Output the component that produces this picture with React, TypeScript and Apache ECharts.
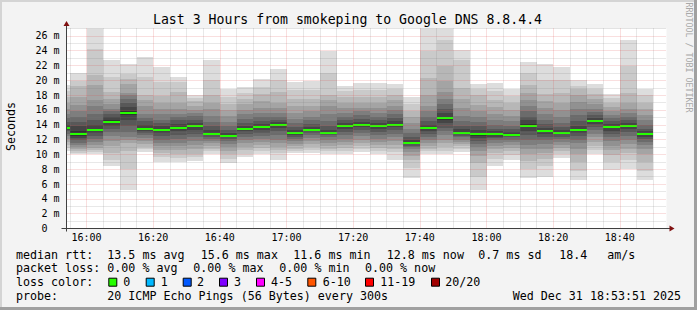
import React, { useEffect, useRef } from 'react';
import * as echarts from 'echarts';

// ---------- data ----------
const AXIS_START = '15:54';
const AXIS_END = '18:54';
const STEP_MIN = 5;
const Y_MAX = 27;
const xTickLabels = ['16:00', '16:20', '16:40', '17:00', '17:20', '17:40', '18:00', '18:20', '18:40'];
const yTickValues = [0, 2, 4, 6, 8, 10, 12, 14, 16, 18, 20, 22, 24, 26];

const barStarts = [
  '15:50', '15:55', '16:00', '16:05', '16:10', '16:15', '16:20', '16:25', '16:30', '16:35', '16:40', '16:45',
  '16:50', '16:55', '17:00', '17:05', '17:10', '17:15', '17:20', '17:25', '17:30', '17:35', '17:40', '17:45',
  '17:50', '17:55', '18:00', '18:05', '18:10', '18:15', '18:20', '18:25', '18:30', '18:35', '18:40', '18:45',
];

// median rtt (ms) per 5-minute step
const medianRtt = [
  13.6, 12.8, 13.3, 14.4, 15.6, 13.5, 13.3, 13.6, 13.8, 12.8, 12.5, 13.5,
  13.7, 14.0, 12.9, 13.3, 12.9, 13.8, 14.0, 13.8, 14.0, 11.6, 13.6, 14.9,
  12.9, 12.7, 12.7, 12.65, 13.9, 13.1, 12.9, 13.3, 14.5, 13.7, 13.9, 12.7,
];

// 20 sorted ping times (ms) per step
const pingSets = [
  [10.5, 10.9, 11.3, 11.7, 12.1, 12.5, 12.8, 13.1, 13.3, 13.5, 13.7, 14.0, 14.4, 14.9, 15.5, 16.2, 17.0, 17.8, 18.6, 19.4],
  [10.0, 10.2, 10.5, 10.8, 11.0, 11.3, 11.6, 11.9, 12.2, 12.5, 13.1, 13.9, 14.4, 15.0, 15.8, 16.7, 17.8, 19.2, 19.9, 21.0],
  [10.0, 10.3, 10.6, 10.9, 11.3, 11.7, 12.1, 12.5, 12.9, 13.2, 13.5, 14.0, 14.6, 15.4, 16.5, 17.4, 19.4, 20.7, 24.3, 27.6],
  [8.4, 9.3, 10.2, 11.1, 11.8, 12.5, 13.0, 13.5, 13.9, 14.2, 14.6, 15.0, 15.4, 15.8, 16.2, 16.8, 17.5, 18.4, 20.5, 22.8],
  [5.2, 8.0, 10.5, 11.5, 12.0, 12.4, 13.0, 13.8, 14.6, 15.3, 15.9, 16.4, 16.9, 17.5, 18.0, 18.3, 19.5, 20.2, 20.8, 22.2],
  [10.3, 10.7, 11.0, 11.4, 11.8, 12.2, 12.6, 12.9, 13.2, 13.4, 13.6, 14.0, 14.5, 14.9, 15.5, 16.5, 17.3, 18.0, 20.5, 23.2],
  [9.0, 9.6, 10.2, 10.6, 11.1, 11.5, 12.0, 12.5, 12.9, 13.2, 13.4, 13.8, 14.3, 14.7, 15.4, 16.1, 17.0, 17.9, 19.8, 21.8],
  [9.0, 9.5, 10.0, 10.6, 11.1, 11.6, 12.1, 12.6, 13.1, 13.5, 13.7, 14.1, 14.6, 15.0, 15.4, 16.2, 17.0, 18.4, 19.8, 20.4],
  [9.1, 9.6, 10.1, 10.7, 11.3, 11.8, 12.3, 12.8, 13.3, 13.7, 13.9, 14.3, 14.7, 15.2, 15.6, 16.0, 16.6, 17.2, 17.6, 18.0],
  [10.0, 10.4, 10.8, 11.2, 11.5, 11.8, 12.1, 12.4, 12.6, 12.7, 12.9, 13.3, 13.9, 14.4, 15.2, 16.1, 17.0, 18.0, 20.1, 22.8],
  [8.8, 9.4, 10.0, 10.5, 11.0, 11.4, 11.8, 12.1, 12.3, 12.4, 12.6, 12.9, 13.3, 13.8, 14.4, 15.2, 16.0, 16.8, 17.8, 18.8],
  [9.6, 10.1, 10.6, 11.0, 11.5, 11.9, 12.3, 12.7, 13.1, 13.4, 13.6, 13.9, 14.3, 14.8, 15.4, 16.0, 16.8, 17.5, 18.3, 19.1],
  [10.1, 10.5, 10.9, 11.3, 11.7, 12.1, 12.5, 12.9, 13.3, 13.6, 13.8, 14.1, 14.5, 15.0, 15.6, 16.3, 17.2, 18.1, 19.1, 20.2],
  [9.3, 10.2, 10.6, 11.0, 11.5, 12.0, 12.6, 13.1, 13.6, 13.9, 14.1, 14.4, 14.7, 15.0, 15.6, 16.3, 17.0, 18.4, 20.0, 21.6],
  [10.2, 10.5, 10.8, 11.1, 11.4, 11.8, 12.1, 12.4, 12.6, 12.8, 13.0, 13.3, 13.7, 14.2, 14.8, 15.6, 16.5, 17.5, 18.7, 19.8],
  [10.2, 10.6, 11.0, 11.4, 11.8, 12.2, 12.6, 12.9, 13.1, 13.3, 13.4, 13.7, 14.1, 14.6, 15.1, 15.8, 16.5, 17.5, 18.7, 19.9],
  [10.0, 10.4, 10.8, 11.2, 11.6, 12.0, 12.3, 12.6, 12.8, 12.9, 13.0, 13.3, 13.8, 14.5, 15.5, 16.5, 17.4, 18.0, 21.0, 24.0],
  [10.1, 10.5, 10.9, 11.3, 11.7, 12.1, 12.6, 13.0, 13.4, 13.7, 13.9, 14.2, 14.6, 15.0, 15.6, 16.3, 17.0, 17.8, 18.5, 19.2],
  [10.3, 10.7, 11.2, 11.6, 12.0, 12.5, 12.9, 13.3, 13.7, 13.9, 14.1, 14.4, 14.8, 15.3, 15.8, 16.3, 17.0, 17.8, 18.7, 19.7],
  [10.1, 10.5, 10.9, 11.3, 11.7, 12.1, 12.6, 13.0, 13.4, 13.7, 13.9, 14.2, 14.6, 15.1, 15.6, 16.3, 17.0, 17.8, 18.7, 19.6],
  [9.3, 10.3, 10.8, 11.3, 11.8, 12.3, 12.8, 13.3, 13.7, 13.9, 14.1, 14.5, 14.9, 15.4, 16.0, 16.6, 17.3, 18.0, 18.8, 19.5],
  [6.8, 8.2, 9.2, 9.8, 10.3, 10.7, 11.0, 11.2, 11.4, 11.5, 11.7, 12.0, 12.4, 12.9, 13.5, 14.2, 15.0, 15.8, 16.8, 17.7],
  [10.0, 10.4, 10.8, 11.2, 11.6, 12.0, 12.4, 12.8, 13.2, 13.5, 13.7, 14.0, 14.5, 15.1, 15.8, 16.6, 18.0, 20.3, 24.0, 27.6],
  [10.0, 10.5, 11.0, 11.5, 12.0, 12.6, 13.1, 13.6, 14.2, 14.7, 15.1, 15.6, 16.1, 16.8, 17.5, 18.4, 19.9, 22.0, 25.4, 27.6],
  [10.3, 10.7, 11.1, 11.4, 11.7, 12.0, 12.3, 12.5, 12.7, 12.8, 13.0, 13.4, 13.9, 14.5, 15.2, 16.3, 17.5, 19.0, 22.8, 24.1],
  [5.2, 7.0, 8.9, 9.8, 10.5, 11.0, 11.4, 11.8, 12.2, 12.5, 12.9, 13.3, 13.8, 14.4, 15.0, 15.8, 16.7, 18.0, 18.8, 19.5],
  [8.5, 9.4, 10.2, 10.8, 11.2, 11.6, 11.9, 12.2, 12.4, 12.6, 12.8, 13.1, 13.5, 14.0, 14.7, 15.5, 16.4, 17.3, 18.6, 19.7],
  [9.3, 9.9, 10.4, 10.9, 11.3, 11.7, 12.0, 12.3, 12.5, 12.6, 12.7, 13.0, 13.4, 13.9, 14.5, 15.2, 16.0, 16.9, 17.9, 18.9],
  [6.8, 8.0, 9.1, 10.0, 10.7, 11.3, 12.0, 12.6, 13.2, 13.7, 14.1, 14.6, 15.1, 15.8, 16.6, 17.4, 18.3, 19.4, 21.0, 22.5],
  [7.0, 8.5, 9.4, 10.2, 10.8, 11.4, 11.9, 12.4, 12.8, 13.0, 13.2, 13.6, 14.1, 14.7, 15.4, 16.3, 17.2, 18.1, 20.0, 22.2],
  [9.5, 10.0, 10.4, 10.9, 11.3, 11.7, 12.1, 12.4, 12.7, 12.8, 13.0, 13.3, 13.7, 14.3, 15.0, 16.0, 17.0, 18.3, 20.0, 21.8],
  [6.5, 7.8, 9.0, 10.0, 10.8, 11.5, 12.0, 12.5, 12.9, 13.2, 13.4, 13.8, 14.5, 15.3, 16.2, 17.1, 18.0, 18.8, 19.3, 20.0],
  [10.0, 10.6, 11.2, 11.7, 12.3, 12.8, 13.3, 13.7, 14.1, 14.4, 14.6, 14.9, 15.3, 15.7, 16.2, 16.8, 17.5, 18.2, 18.9, 19.5],
  [7.9, 9.0, 9.9, 10.6, 11.2, 11.8, 12.3, 12.8, 13.2, 13.6, 13.8, 14.1, 14.5, 14.9, 15.3, 15.8, 16.4, 17.0, 17.6, 18.1],
  [8.0, 9.2, 10.2, 10.8, 11.4, 12.0, 12.5, 13.0, 13.4, 13.8, 14.0, 14.3, 14.7, 15.1, 15.6, 16.2, 17.0, 18.3, 22.0, 25.4],
  [6.5, 7.8, 9.0, 10.0, 10.8, 11.3, 11.7, 12.1, 12.4, 12.6, 12.8, 13.1, 13.5, 14.0, 14.6, 15.3, 16.1, 17.0, 18.0, 18.9],
];

const titleText = 'Last 3 Hours from smokeping to Google DNS 8.8.4.4';
const yAxisTitle = 'Seconds';
const watermark = 'RRDTOOL / TOBI OETIKER';
const rttHeader = 'median rtt:';
const rttStats = ['13.5 ms avg', '15.6 ms max', '11.6 ms min', '12.8 ms now', '0.7 ms sd', '18.4', 'am/s'];
const lossHeader = 'packet loss:';
const lossStats = ['0.00 % avg', '0.00 % max', '0.00 % min', '0.00 % now'];
const colorHeader = 'loss color:';
const lossLabels = ['0', '1', '2', '3', '4-5', '6-10', '11-19', '20/20'];
const lossColors = ['#26ff00', '#00b8ff', '#0059ff', '#7e00ff', '#ff00ff', '#ff5500', '#ff0000', '#a10000'];
const probeHeader = 'probe:';
const probeText = '20 ICMP Echo Pings (56 Bytes) every 300s';
const stampText = 'Wed Dec 31 18:53:51 2025';

// ---------- layout ----------
const W = 697;
const H = 310;
const GL = 66.5;
const GT = 28.5;
const GW = 600;
const GH = 200;
const MONO = '"DejaVu Sans Mono", monospace';
const BG = '#f3f3f3';
const MAJOR = 'rgba(225,80,80,0.36)';
const MINOR = 'rgba(120,120,120,0.34)';
const LEG_FONT = `11.66px ${MONO}`;
const LEFT_X = 16;
const COL_X = 107.3;
const ROW_Y = [254.5, 268.3, 282.2, 296];
const RTT_X = [107.3, 200.7, 293.3, 386.7, 478.3, 559.3, 607.3];
const LOSS_X = [107.3, 193.3, 279.3, 365];
const BOX_X = [108.3, 145.7, 182.7, 219, 256, 307.3, 365, 431];
const BOXLBL_X = [123.3, 160.7, 197, 234, 271, 322.7, 380.3, 445.3];
const STAMP_X = 512.7;

const toMin = (s: string) => {
  const [h, m] = s.split(':').map(Number);
  return h * 60 + m;
};
const fmt = (m: number) => `${String(Math.floor(m / 60)).padStart(2, '0')}:${String(m % 60).padStart(2, '0')}`;

const xCats: string[] = [];
for (let m = toMin(AXIS_START); m <= toMin(AXIS_END); m++) xCats.push(fmt(m));

export default function App() {
  const ref = useRef<HTMLDivElement>(null);

  useEffect(() => {
    if (!ref.current) return;
    const chart = echarts.init(ref.current, undefined, { renderer: 'svg', width: W, height: H });
    const origin = toMin(AXIS_START);
    const data = barStarts.map((s, i) => [toMin(s) - origin, medianRtt[i]]);

    const text = (t: string, x: number, y: number, extra: any = {}) => ({
      type: 'text',
      x,
      y,
      z: 100,
      silent: true,
      style: { text: t, font: LEG_FONT, fill: '#000', align: 'left', verticalAlign: 'middle', ...extra },
    });

    const graphics: any[] = [];
    // frame
    graphics.push({ type: 'rect', z: 100, shape: { x: 0, y: 0, width: W, height: 2 }, style: { fill: '#d4d4d4' } });
    graphics.push({ type: 'rect', z: 100, shape: { x: 0, y: 0, width: 2, height: H }, style: { fill: '#d4d4d4' } });
    graphics.push({ type: 'rect', z: 101, shape: { x: W - 3, y: 0, width: 3, height: H }, style: { fill: '#a0a0a0' } });
    graphics.push({ type: 'rect', z: 101, shape: { x: 0, y: H - 3, width: W, height: 3 }, style: { fill: '#a0a0a0' } });
    // axes
    graphics.push({ type: 'line', z: 100, shape: { x1: GL, y1: GT + GH + 3, x2: GL, y2: GT - 5 }, style: { stroke: '#404040', lineWidth: 1 } });
    graphics.push({ type: 'line', z: 100, shape: { x1: GL - 5, y1: GT + GH, x2: GL + GW + 4, y2: GT + GH }, style: { stroke: '#404040', lineWidth: 1 } });
    graphics.push({ type: 'polygon', z: 101, shape: { points: [[GL - 3, GT - 2.5], [GL + 3, GT - 2.5], [GL, GT - 7.5]] }, style: { fill: '#801010' } });
    graphics.push({ type: 'polygon', z: 101, shape: { points: [[GL + GW + 3, GT + GH - 3], [GL + GW + 3, GT + GH + 3], [GL + GW + 8, GT + GH]] }, style: { fill: '#801010' } });
    // titles
    graphics.push(text(titleText, 347.5, 19.5, { font: `13.2px ${MONO}`, align: 'center' }));
    graphics.push({ ...text(yAxisTitle, 0, 0, { align: 'center' }), x: 10.5, y: 126.5, rotation: Math.PI / 2 });
    graphics.push({ ...text(watermark, 0, 0, { align: 'center', font: `8.3px ${MONO}`, fill: '#a8a8a8' }), x: 688.5, y: 57.5, rotation: -Math.PI / 2 });
    // legend rows
    graphics.push(text(rttHeader, LEFT_X, ROW_Y[0]));
    rttStats.forEach((s, i) => graphics.push(text(s, RTT_X[i], ROW_Y[0])));
    graphics.push(text(lossHeader, LEFT_X, ROW_Y[1]));
    lossStats.forEach((s, i) => graphics.push(text(s, LOSS_X[i], ROW_Y[1])));
    graphics.push(text(colorHeader, LEFT_X, ROW_Y[2]));
    lossLabels.forEach((s, i) => {
      graphics.push({
        type: 'rect',
        z: 100,
        shape: { x: BOX_X[i] + 0.5, y: ROW_Y[2] - 4, width: 8, height: 8 },
        style: { fill: lossColors[i], stroke: '#000', lineWidth: 1 },
      });
      graphics.push(text(s, BOXLBL_X[i], ROW_Y[2]));
    });
    graphics.push(text(probeHeader, LEFT_X, ROW_Y[3]));
    graphics.push(text(probeText, COL_X, ROW_Y[3]));
    graphics.push(text(stampText, STAMP_X, ROW_Y[3]));

    const option: any = {
      animation: false,
      backgroundColor: BG,
      grid: { left: GL, top: GT, width: GW, height: GH, show: true, backgroundColor: '#ffffff', borderWidth: 0 },
      xAxis: [
        {
          type: 'category',
          data: xCats,
          boundaryGap: false,
          z: 6,
          axisLine: { show: false },
          axisTick: { show: false },
          axisLabel: {
            interval: (_i: number, v: string) => xTickLabels.includes(v),
            fontFamily: MONO,
            fontSize: 10,
            color: '#000',
            margin: 4,
          },
          splitLine: {
            show: true,
            interval: (_i: number, v: string) => xTickLabels.includes(v),
            lineStyle: { color: MAJOR, type: [1, 1], width: 1 },
          },
        },
        {
          type: 'category',
          data: xCats,
          boundaryGap: false,
          position: 'bottom',
          z: 5,
          axisLine: { show: false },
          axisTick: { show: false },
          axisLabel: { show: false },
          splitLine: {
            show: true,
            interval: (_i: number, v: string) => toMin(v) % STEP_MIN === 0 && !xTickLabels.includes(v),
            lineStyle: { color: MINOR, type: [1, 1], width: 1 },
          },
        },
      ],
      yAxis: {
        type: 'value',
        min: 0,
        max: Y_MAX,
        interval: 1,
        z: 6,
        axisLine: { show: false },
        axisTick: { show: false },
        axisLabel: {
          formatter: (v: number) => (yTickValues.includes(v) ? (v === 0 ? '{z|0}' : `${v} m`) : ''),
          fontFamily: MONO,
          fontSize: 10,
          color: '#000',
          margin: 7,
          rich: { z: { fontFamily: MONO, fontSize: 10, color: '#000', padding: [0, 12, 0, 0] } },
        },
        splitLine: { show: true, lineStyle: { color: [MAJOR, MINOR], type: [1, 1], width: 1 } },
      },
      series: [
        {
          type: 'custom',
          xAxisIndex: 0,
          yAxisIndex: 0,
          clip: true,
          z: 2,
          encode: { x: 0, y: 1 },
          data,
          renderItem: (params: any, api: any) => {
            const i = params.dataIndex;
            const start = api.value(0);
            const pings = pingSets[i];
            const xa = Math.round(api.coord([start, 0])[0]);
            const xb = Math.round(api.coord([start + STEP_MIN, 0])[0]);
            const children: any[] = [];
            const half = pings.length / 2;
            for (let b = 0; b < half; b++) {
              const lo = pings[b];
              const hi = pings[pings.length - 1 - b];
              const yLo = Math.round(api.coord([start, lo])[1]);
              const yHi = Math.round(api.coord([start, hi])[1]);
              const g = Math.floor((190 / half) * (half - (b + 1))) + 50;
              children.push({
                type: 'rect',
                shape: { x: xa, y: yHi, width: xb - xa, height: Math.max(yLo - yHi, 1) },
                style: { fill: `rgb(${g},${g},${g})` },
              });
            }
            const ym = Math.round(api.coord([start, api.value(1)])[1]);
            children.push({
              type: 'rect',
              shape: { x: xa, y: ym - 1, width: xb - xa, height: 2 },
              style: { fill: lossColors[0] },
            });
            return { type: 'group', children };
          },
        },
      ],
      graphic: graphics,
    };
    chart.setOption(option);
    return () => chart.dispose();
  }, []);

  return (
    <div style={{ position: 'fixed', left: 0, top: 0, width: W, height: H, background: BG }}>
      <div ref={ref} style={{ width: W, height: H }} />
    </div>
  );
}
